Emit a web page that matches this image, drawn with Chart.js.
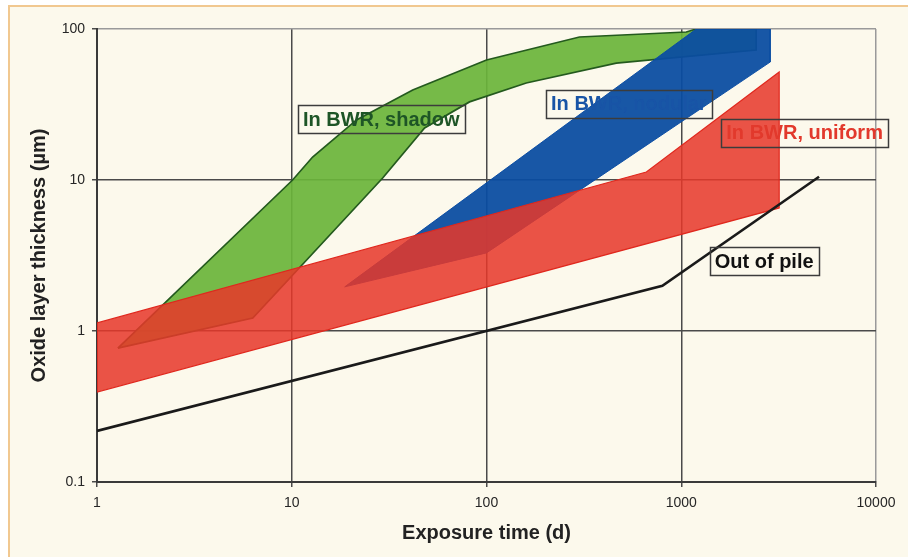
<!DOCTYPE html>
<html><head><meta charset="utf-8">
<script src="https://cdn.jsdelivr.net/npm/chart.js@4/dist/chart.umd.min.js"></script>
<style>
html,body{margin:0;padding:0;background:#fff;width:908px;height:557px;overflow:hidden;}
#frame{position:absolute;left:8px;top:5px;width:900px;height:552px;background:#fcf9ec;border-left:2px solid #f1c890;border-top:2px solid #f1c890;}
#c{position:absolute;left:0;top:0;}
</style></head><body>
<div id="frame"></div>
<canvas id="c" width="908" height="557"></canvas>
<script>
// Axis ticks
const xTicks = [1, 10, 100, 1000, 10000];
const xTickLabels = ['1', '10', '100', '1000', '10000'];
const yTicks = [0.1, 1, 10, 100];
const yTickLabels = ['0.1', '1', '10', '100'];

// Band outlines (exposure time in d, oxide thickness in µm), traced around each band
const shadowX = [1.28, 10.1, 12.8, 21.5, 41.8, 100, 300, 1061, 1194, 2425, 2425, 464, 160, 81.8, 48.1, 29.3, 6.31, 1.28];
const shadowY = [0.77, 10.0, 14.2, 25.0, 39.4, 62.3, 88.5, 95.5, 100, 100, 72.6, 59.5, 43.9, 32.9, 22.1, 10.3, 1.22, 0.77];

const nodularX = [18.7, 1194, 2860, 2860, 100, 18.7];
const nodularY = [1.96, 100, 100, 60.4, 3.29, 1.96];

const uniformX = [1, 662, 3183, 3183, 1, 1];
const uniformY = [1.13, 11.3, 51.9, 6.53, 0.394, 1.13];

const pileX = [1, 800, 5100];
const pileY = [0.218, 1.99, 10.5];

// Band labels
const labelTexts = ['In BWR, shadow', 'In BWR, nodular', 'In BWR, uniform', 'Out of pile'];
const labelX = [28.8, 538, 4300, 2665];
const labelY = [25.2, 31.9, 20.6, 2.886];

function pts(xs, ys) { return xs.map((x, i) => ({x: x, y: ys[i]})); }

Chart.defaults.font.family = '"Liberation Sans", Arial, sans-serif';

const labelPlugin = {
  id: 'bandLabels',
  afterDatasetsDraw(chart, args, opts) {
    const {ctx, scales} = chart;
    ctx.save();
    ctx.font = 'bold 20px "Liberation Sans", Arial, sans-serif';
    ctx.textAlign = 'center';
    ctx.textBaseline = 'middle';
    labelTexts.forEach((t, i) => {
      const cx = scales.x.getPixelForValue(labelX[i]);
      const cy = scales.y.getPixelForValue(labelY[i]);
      const w = ctx.measureText(t).width + 10;
      const h = 28;
      ctx.fillStyle = opts.colors[i];
      ctx.fillText(t, cx, cy + 1);
      ctx.lineWidth = 1.5;
      ctx.strokeStyle = '#3c3c3c';
      ctx.strokeRect(Math.round(cx - w / 2) + 0.5, Math.round(cy - h / 2) + 0.5, Math.round(w), h);
    });
    ctx.restore();
  }
};

new Chart(document.getElementById('c'), {
  type: 'line',
  data: {
    datasets: [
      {label: labelTexts[0], data: pts(shadowX, shadowY), fill: 'shape',
       backgroundColor: 'rgba(106,180,58,0.92)', borderColor: '#245a1e', borderWidth: 1.7, order: 4},
      {label: labelTexts[1], data: pts(nodularX, nodularY), fill: 'shape',
       backgroundColor: 'rgba(10,76,162,0.94)', borderColor: 'rgba(10,76,162,0.95)', borderWidth: 1, order: 3},
      {label: labelTexts[2], data: pts(uniformX, uniformY), fill: 'shape',
       backgroundColor: 'rgba(230,56,42,0.86)', borderColor: '#e0281e', borderWidth: 1.2, order: 2},
      {label: labelTexts[3], data: pts(pileX, pileY), fill: false,
       borderColor: '#1a1a1a', borderWidth: 2.6, order: 1}
    ]
  },
  options: {
    responsive: false,
    animation: false,
    events: [],
    layout: {padding: {left: 0, top: 29, right: 32, bottom: 0}},
    elements: {point: {radius: 0, hoverRadius: 0}, line: {tension: 0}},
    plugins: {
      legend: {display: false},
      tooltip: {enabled: false},
      bandLabels: {colors: ['#1e5526', 'rgb(24,84,166)', '#e2392c', '#111111']}
    },
    scales: {
      x: {
        type: 'logarithmic', min: 1, max: 10000,
        afterBuildTicks: s => { s.ticks = xTicks.map(v => ({value: v})); },
        afterFit: s => { s.height = 75; },
        ticks: {autoSkip: false, maxRotation: 0, padding: 8, color: '#262626',
                font: {size: 14}, callback: (v, i) => xTickLabels[i]},
        grid: {color: c => c.index === xTicks.length - 1 ? '#9a9a9a' : '#4a4a4a',
               lineWidth: 1.5, tickLength: 5, tickColor: '#4a4a4a'},
        border: {display: true, color: '#3a3a3a', width: 2},
        title: {display: true, text: 'Exposure time (d)', color: '#222',
                font: {size: 20, weight: 'bold'}, padding: {top: 0, bottom: 12}}
      },
      y: {
        type: 'logarithmic', min: 0.1, max: 100,
        afterBuildTicks: s => { s.ticks = yTicks.map(v => ({value: v})); },
        afterFit: s => { s.width = 97; },
        ticks: {autoSkip: false, padding: 7, color: '#262626',
                font: {size: 14}, callback: (v, i) => yTickLabels[i]},
        grid: {color: c => c.index === yTicks.length - 1 ? '#9a9a9a' : '#4a4a4a',
               lineWidth: 1.5, tickLength: 5, tickColor: '#4a4a4a'},
        border: {display: true, color: '#3a3a3a', width: 2},
        title: {display: true, text: 'Oxide layer thickness (µm)', color: '#222',
                font: {size: 20, weight: 'bold'}, padding: {top: 27, bottom: 0}}
      }
    }
  },
  plugins: [labelPlugin]
});
</script>
</body></html>
